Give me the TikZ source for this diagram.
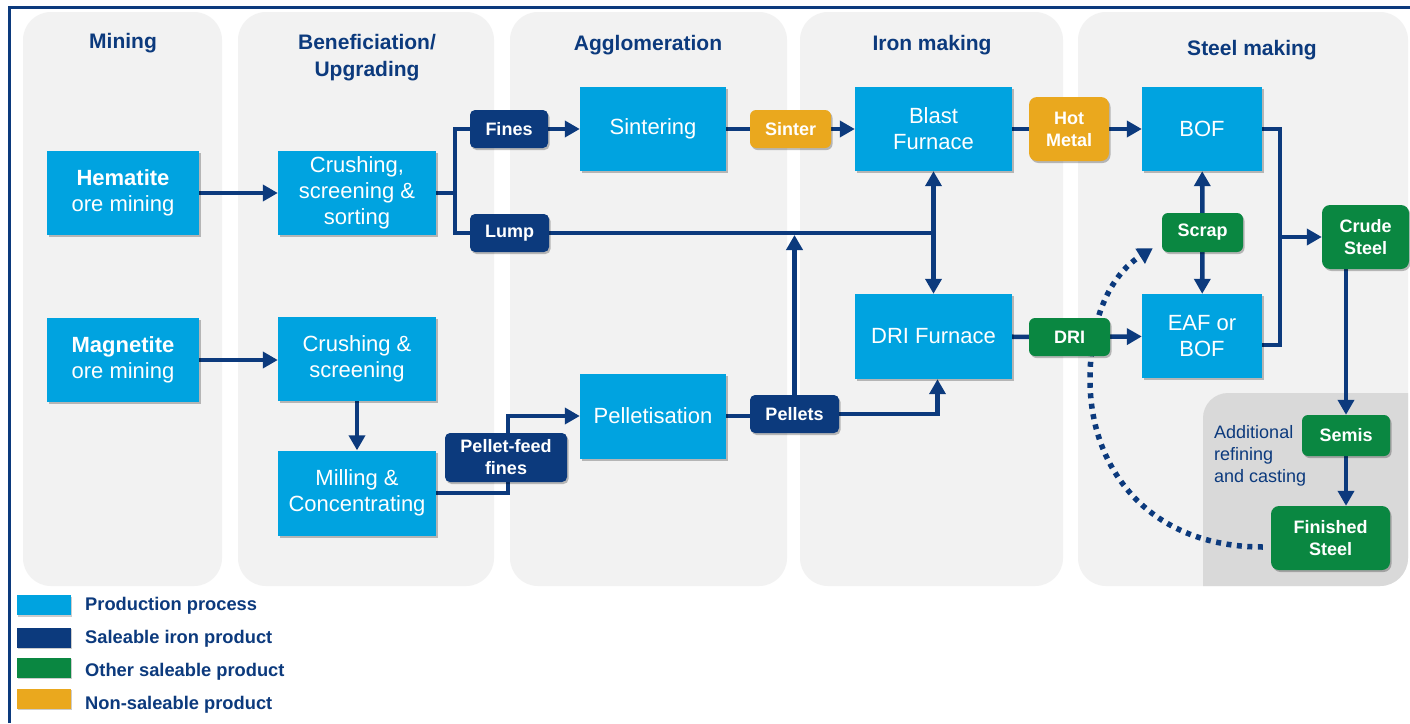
\documentclass[tikz,border=0pt]{standalone}
\usepackage{fontspec}
\setmainfont{Liberation Sans}
\usetikzlibrary{arrows.meta,shadows,calc}
\definecolor{procblue}{HTML}{00A3E0}
\definecolor{navy}{HTML}{0C3A7D}
\definecolor{grn}{HTML}{0A8741}
\definecolor{orng}{HTML}{EAA81E}
\definecolor{colgray}{HTML}{F2F2F2}
\definecolor{regiongray}{HTML}{D9D9D9}
\pgfdeclarelayer{bg}
\pgfdeclarelayer{lines}
\pgfsetlayers{bg,lines,main}
\tikzset{
  box/.style={inner sep=0pt, align=center, text=white,
    drop shadow={shadow xshift=1.5pt, shadow yshift=-2pt, opacity=0.25, fill=black}},
  proc/.style={box, fill=procblue, minimum height=84pt,
    font=\fontsize{22}{26}\selectfont},
  tag/.style={box, fill=navy, rounded corners=5pt, minimum height=38pt,
    font=\fontsize{18}{22}\selectfont\bfseries},
  gtag/.style={tag, fill=grn, rounded corners=6pt},
  otag/.style={tag, fill=orng, rounded corners=6pt},
  coltitle/.style={inner sep=0pt, text=navy, align=center,
    font=\fontsize{21}{27}\selectfont\bfseries},
  conn/.style={draw=navy, line width=4.6pt},
  arr/.style={conn, -{Triangle[length=15pt,width=16pt]}},
  darr/.style={conn, {Triangle[length=15pt,width=16pt]}-{Triangle[length=15pt,width=16pt]}},
  dotline/.style={draw=navy, line width=5.5pt, dash pattern=on 5pt off 5.5pt,
    -{Triangle[length=15pt,width=17pt]}},
  swatch/.style={inner sep=0pt, minimum width=54pt, minimum height=20pt,
    drop shadow={shadow xshift=1pt, shadow yshift=-1.5pt, opacity=0.2, fill=black}},
  legtext/.style={inner sep=0pt, anchor=base west, text=navy,
    font=\fontsize{18.3}{22}\selectfont\bfseries},
}
\begin{document}
\begin{tikzpicture}[x=1pt,y=-1pt]
\useasboundingbox (0,0) rectangle (1410,723);

% ---- column titles
\node[coltitle, anchor=base] (tmin) at (123,48) {Mining};
\node[coltitle, anchor=north] (tben) at (367,34) {Beneficiation/\\Upgrading};
\node[coltitle, anchor=base] (tagg) at (648,50) {Agglomeration};
\node[coltitle, anchor=base] (tiron) at (932,50) {Iron making};
\node[coltitle, anchor=base] (tsteel) at (1252,55) {Steel making};

% ---- process boxes
\node[proc, minimum width=152pt] (hem) at (123,193) {\textbf{Hematite}\\ore mining};
\node[proc, minimum width=152pt] (mag) at (123,360) {\textbf{Magnetite}\\ore mining};
\node[proc, minimum width=158pt] (css) at (357,193) {Crushing,\\screening \&\\sorting};
\node[proc, minimum width=158pt] (cs) at (357,359) {Crushing \&\\screening};
\node[proc, minimum width=158pt, minimum height=85pt] (mill) at (357,493) {Milling \&\\Concentrating};
\node[proc, minimum width=146pt] (sint) at (653,129) {Sintering};
\node[proc, minimum width=146pt, minimum height=85pt] (pell) at (653,416) {Pelletisation};
\node[proc, minimum width=157pt] (bf) at (933.5,129) {Blast\\Furnace};
\node[proc, minimum width=157pt, minimum height=85pt] (drif) at (933.5,336.5) {DRI Furnace};
\node[proc, minimum width=120pt] (bof) at (1202,129) {BOF};
\node[proc, minimum width=120pt] (eaf) at (1202,336) {EAF or\\BOF};

% ---- product boxes
\node[tag, minimum width=78pt] (fines) at (509,129) {Fines};
\node[tag, minimum width=79pt] (lump) at (509.5,233) {Lump};
\node[tag, minimum width=122pt, minimum height=49pt] (pff) at (506,457.5) {Pellet-feed\\fines};
\node[tag, minimum width=89pt] (pellets) at (794.5,414) {Pellets};
\node[otag, minimum width=81pt] (sinter) at (790.5,129) {Sinter};
\node[otag, minimum width=80pt, minimum height=64pt, rounded corners=8pt] (hot) at (1069,129) {Hot\\Metal};
\node[gtag, minimum width=81pt, minimum height=39pt] (scrap) at (1202.5,232.5) {Scrap};
\node[gtag, minimum width=81pt] (dri) at (1069.5,337) {DRI};
\node[gtag, minimum width=87pt, minimum height=64pt, rounded corners=8pt] (crude) at (1365.5,237) {Crude\\Steel};
\node[gtag, minimum width=88pt, minimum height=41pt] (semis) at (1346,435.5) {Semis};
\node[gtag, minimum width=119pt, minimum height=64pt, rounded corners=8pt] (fin) at (1330.5,538) {Finished\\Steel};

\node[inner sep=0pt, anchor=north west, align=left, text=navy,
  font=\fontsize{18}{22}\selectfont] (addl) at (1214,425.5) {Additional\\refining\\and casting};

% ---- legend
\node[swatch, fill=procblue] (sw1) at (44,605) {};
\node[swatch, fill=navy] (sw2) at (44,637.5) {};
\node[swatch, fill=grn] (sw3) at (44,667.5) {};
\node[swatch, fill=orng] (sw4) at (44,698.5) {};
\node[legtext] (lt1) at (85,610) {Production process};
\node[legtext] (lt2) at (85,643) {Saleable iron product};
\node[legtext] (lt3) at (85,676) {Other saleable product};
\node[legtext] (lt4) at (85,709) {Non-saleable product};

% ---- background: columns, region, frame
\begin{pgfonlayer}{bg}
\fill[white] (0,0) rectangle (1410,723);
\fill[colgray, rounded corners=28pt] (23,12) rectangle (222,586);
\fill[colgray, rounded corners=28pt] (238,12) rectangle (494,586);
\fill[colgray, rounded corners=28pt] (510,12) rectangle (787,586);
\fill[colgray, rounded corners=28pt] (800,12) rectangle (1063,586);
\fill[colgray, rounded corners=28pt] (1078,12) rectangle (1408,586);
\begin{scope}
  \clip[rounded corners=28pt] (1078,12) rectangle (1408,586);
  \fill[regiongray, rounded corners=25pt] (1203,393) rectangle (1460,640);
\end{scope}
\draw[navy, line width=3pt] (9,723) -- (9,7) -- (1412,7);
\end{pgfonlayer}

% ---- connectors
\begin{pgfonlayer}{lines}
\coordinate (splitx) at (455,193);
\draw[arr] (hem.east) -- (hem.east -| css.west);
\draw[arr] (mag.east) -- (mag.east -| cs.west);
\draw[arr] (cs.south) -- (cs.south |- mill.north);
\draw[conn] (css.east) -- (splitx);
\draw[conn] (fines.west) -| (splitx) |- (lump.west);
\draw[arr] (fines) -- (sint);
\draw[conn] (sint) -- (sinter);
\draw[arr] (sinter) -- (bf);
\draw[conn] (bf) -- (hot);
\draw[arr] (hot) -- (bof);
\draw[conn] (lump.east) -- (lump.east -| bf.south);
\draw[darr] (bf.south) -- (drif.north);
\draw[conn] (pell.east) -- (pell.east -| pellets.west);
\draw[arr] (pellets.north) -- ([yshift=-2pt]pellets.north |- lump.east);
\draw[arr] (pellets.east) -| ([xshift=4pt]drif.south);
\coordinate (pffx) at (508,493);
\draw[arr] (mill.east) -- (pffx) |- (pell.west);
\draw[conn] (drif) -- (dri);
\draw[arr] (dri) -- (eaf);
\draw[arr] (scrap) -- (bof);
\draw[arr] (scrap) -- (eaf);
\coordinate (busx) at (1280,237);
\draw[conn] (bof.east) -| (busx) |- ([yshift=-9pt]eaf.east);
\draw[arr] (busx) -- (crude.west);
\draw[arr] (semis.north |- crude.south) -- (semis.north);
\draw[arr] (semis.south) -- (semis.south |- fin.north);
\draw[dotline] ([xshift=-8pt,yshift=-9pt]fin.west)
  .. controls (1150,547) and (1090,470) .. (1090,380)
  .. controls (1090,310) and (1115,272) .. ([xshift=-9pt,yshift=4pt]scrap.south west);
\end{pgfonlayer}
\end{tikzpicture}
\end{document}
